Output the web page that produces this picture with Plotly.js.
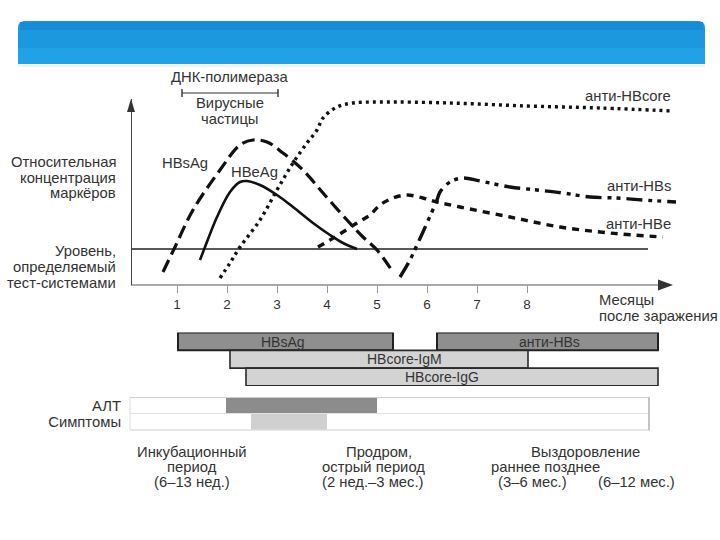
<!DOCTYPE html>
<html>
<head>
<meta charset="utf-8">
<script src="https://cdn.plot.ly/plotly-3.0.1.min.js"></script>
<style>html,body{margin:0;padding:0;background:#fff;}#chart{width:720px;height:540px;}</style>
</head>
<body>
<div id="chart"></div>
<script>
// ---------- DATA (months after infection, relative concentration) ----------
const monthTicks = [1, 2, 3, 4, 5, 6, 7, 8];
const monthLabels = ['1', '2', '3', '4', '5', '6', '7', '8'];

const hbsagX = [0.72, 0.96, 1.32, 1.86, 2.26, 2.52, 2.80, 3.12, 3.52, 3.92, 4.40, 4.72, 5.00, 5.32];
const hbsagY = [1.3, 3.8, 7.5, 11.5, 14.0, 14.5, 14.3, 13.2, 11.5, 9.2, 6.5, 4.8, 3.5, 1.3];

const hbeagX = [1.46, 1.56, 1.80, 2.06, 2.26, 2.40, 2.66, 3.00, 3.32, 3.72, 4.06, 4.32, 4.60];
const hbeagY = [2.5, 3.8, 6.8, 9.3, 10.3, 10.4, 10.0, 9.0, 7.8, 6.2, 5.0, 4.2, 3.6];

const antiCoreX = [1.86, 2.06, 2.26, 2.66, 3.00, 3.32, 3.60, 3.80, 3.92, 4.20, 4.52, 5.06, 6.46, 8.00, 9.46, 10.92];
const antiCoreY = [0.7, 2.2, 3.8, 6.5, 9.5, 12.2, 14.2, 15.5, 16.7, 17.8, 18.2, 18.3, 18.2, 17.9, 17.7, 17.4];

const antiHBeX = [3.82, 4.06, 4.32, 4.60, 4.86, 5.06, 5.32, 5.60, 5.92, 6.20, 6.66, 7.66, 8.66, 9.66, 10.72];
const antiHBeY = [3.8, 4.5, 5.3, 6.2, 7.0, 8.0, 8.7, 9.0, 8.7, 8.3, 7.8, 6.8, 5.8, 5.2, 4.8];

const antiHBsX = [5.46, 5.66, 5.80, 6.00, 6.20, 6.26, 6.46, 6.72, 7.06, 7.66, 8.20, 8.72, 9.26, 9.80, 10.32, 10.98];
const antiHBsY = [0.8, 2.5, 4.0, 6.2, 8.5, 9.3, 10.3, 10.7, 10.4, 9.8, 9.5, 9.2, 8.8, 8.7, 8.5, 8.3];

const detectionLevel = 3.6;
const detectionSpan = [0.08, 10.42];

// marker bars (rows: 2 = top, 1 = middle, 0 = bottom)
const darkBarNames = ['HBsAg', 'анти-HBs'];
const darkBarRow = [2, 2];
const darkBarStart = [1.02, 6.20];
const darkBarEnd = [5.32, 10.62];

const lightBarNames = ['HBcore-IgM', 'HBcore-IgG'];
const lightBarRow = [1, 0];
const lightBarStart = [2.06, 2.38];
const lightBarEnd = [8.02, 10.62];

// clinical rows
const clinRows = ['Симптомы', 'АЛТ'];
const altStart = 1.98, altEnd = 5.00;
const sympStart = 2.48, sympEnd = 4.00;

// ---------- helpers ----------
const W = 720, H = 540;
const px = x => x / W;
const py = y => 1 - y / H;
const P = (x, y) => px(x).toFixed(5) + ',' + py(y).toFixed(5);
const txt = '#333333';
const FONT = 'Liberation Sans, Arial, sans-serif';
const FS = 14.8;

function A(text, x, y, anchor, size, color) {
  return {text: text, x: px(x), y: py(y), xref: 'paper', yref: 'paper',
    xanchor: anchor || 'center', yanchor: 'middle', showarrow: false,
    font: {family: FONT, size: size || FS, color: color || txt}};
}

const lineBase = {type: 'scatter', mode: 'lines', xaxis: 'x', yaxis: 'y', hoverinfo: 'skip'};
const traces = [
  Object.assign({}, lineBase, {x: detectionSpan, y: [detectionLevel, detectionLevel], line: {color: '#222', width: 1.5}}),
  Object.assign({}, lineBase, {x: hbsagX, y: hbsagY, line: {color: '#111', width: 3.2, dash: '13px,6px', shape: 'spline', smoothing: 1}}),
  Object.assign({}, lineBase, {x: hbeagX, y: hbeagY, line: {color: '#111', width: 2.6, shape: 'spline', smoothing: 1}}),
  Object.assign({}, lineBase, {x: antiCoreX, y: antiCoreY, line: {color: '#111', width: 3.4, dash: '3px,4px', shape: 'spline', smoothing: 1}}),
  Object.assign({}, lineBase, {x: antiHBeX, y: antiHBeY, line: {color: '#111', width: 3.4, dash: '7px,6px', shape: 'spline', smoothing: 1}}),
  Object.assign({}, lineBase, {x: antiHBsX, y: antiHBsY, line: {color: '#111', width: 3.4, dash: '16px,6px,4px,5px,4px,6px', shape: 'spline', smoothing: 1}}),
  {type: 'bar', orientation: 'h', xaxis: 'x', yaxis: 'y2', y: darkBarRow, base: darkBarStart,
    x: darkBarEnd.map((e, i) => e - darkBarStart[i]), width: 1, hoverinfo: 'skip',
    marker: {color: '#8f8f8f', line: {color: '#222', width: 2}}},
  {type: 'bar', orientation: 'h', xaxis: 'x', yaxis: 'y2', y: lightBarRow, base: lightBarStart,
    x: lightBarEnd.map((e, i) => e - lightBarStart[i]), width: 1, hoverinfo: 'skip',
    marker: {color: '#d3d3d3', line: {color: '#2a2a2a', width: 1.6}}},
  {type: 'bar', orientation: 'h', xaxis: 'x', yaxis: 'y3', y: [1, 0], base: [altStart, sympStart],
    x: [altEnd - altStart, sympEnd - sympStart], width: 1, hoverinfo: 'skip',
    marker: {color: ['#8c8c8c', '#d0d0d0'], line: {width: 0}}}
];

// ---------- decorations ----------
const r = 7;
const shapes = [
  {type: 'path', xref: 'paper', yref: 'paper', line: {width: 0}, fillcolor: '#1c98df',
    path: 'M ' + P(18 + r, 21) + ' L ' + P(705 - r, 21) + ' Q ' + P(705, 21) + ' ' + P(705, 21 + r) +
      ' L ' + P(705, 64) + ' L ' + P(18, 64) + ' L ' + P(18, 21 + r) + ' Q ' + P(18, 21) + ' ' + P(18 + r, 21) + ' Z'},
  {type: 'rect', xref: 'paper', yref: 'paper', x0: px(20), x1: px(703), y0: py(22), y1: py(30), line: {width: 0}, fillcolor: '#168bd6'},
  {type: 'rect', xref: 'paper', yref: 'paper', x0: px(18), x1: px(705), y0: py(48), y1: py(64), line: {width: 0}, fillcolor: '#21a2e6'},
  {type: 'rect', xref: 'paper', yref: 'paper', x0: px(18), x1: px(705), y0: py(64), y1: py(67), line: {width: 0}, fillcolor: '#f6f1e6'},
  // horizontal axis + arrow
  {type: 'line', xref: 'paper', yref: 'paper', x0: px(131), x1: px(664), y0: py(285), y1: py(285), line: {color: '#555', width: 1.2}},
  {type: 'path', xref: 'paper', yref: 'paper', line: {width: 0}, fillcolor: '#333',
    path: 'M ' + P(658, 279.5) + ' L ' + P(673, 285) + ' L ' + P(658, 290.5) + ' Z'},
  // vertical arrow
  {type: 'path', xref: 'paper', yref: 'paper', line: {width: 0}, fillcolor: '#333',
    path: 'M ' + P(127, 112) + ' L ' + P(131, 99) + ' L ' + P(135, 112) + ' Z'},
  // DNA polymerase bracket
  {type: 'line', xref: 'paper', yref: 'paper', x0: px(182), x1: px(278), y0: py(93), y1: py(93), line: {color: '#333', width: 1.2}},
  {type: 'line', xref: 'paper', yref: 'paper', x0: px(182), x1: px(182), y0: py(89), y1: py(97), line: {color: '#333', width: 1.4}},
  {type: 'line', xref: 'paper', yref: 'paper', x0: px(278), x1: px(278), y0: py(89), y1: py(97), line: {color: '#333', width: 1.4}},
  // ALT frame
  {type: 'line', xref: 'paper', yref: 'paper', x0: px(130), x1: px(650), y0: py(397.5), y1: py(397.5), line: {color: '#cfcfcf', width: 1}},
  {type: 'line', xref: 'paper', yref: 'paper', x0: px(130), x1: px(650), y0: py(413.5), y1: py(413.5), line: {color: '#e2e2e2', width: 1}},
  {type: 'line', xref: 'paper', yref: 'paper', x0: px(130), x1: px(650), y0: py(430), y1: py(430), line: {color: '#cfcfcf', width: 1}},
  {type: 'line', xref: 'paper', yref: 'paper', x0: px(130), x1: px(130), y0: py(397.5), y1: py(430), line: {color: '#dddddd', width: 1}},
  {type: 'line', xref: 'paper', yref: 'paper', x0: px(649), x1: px(649), y0: py(397.5), y1: py(430), line: {color: '#b0b0b0', width: 1.5}}
];

const annotations = [
  A('ДНК-полимераза', 230, 77),
  A('Вирусные', 230, 103),
  A('частицы', 230, 119),
  A('HBsAg', 185, 163),
  A('HBeAg', 254, 172),
  A('анти-HBcore', 673, 96, 'right'),
  A('анти-HBs', 673, 186, 'right'),
  A('анти-HBe', 673, 224, 'right'),
  A('Относительная', 118, 162, 'right'),
  A('концентрация', 118, 178, 'right'),
  A('маркёров', 118, 193, 'right'),
  A('Уровень,', 118, 251, 'right'),
  A('определяемый', 118, 267, 'right'),
  A('тест-системами', 118, 283, 'right'),
  A('Месяцы', 597, 300, 'left'),
  A('после заражения', 597, 316, 'left'),
  A(darkBarNames[0], 283, 341.5, 'center', 14),
  A(darkBarNames[1], 549, 341.5, 'center', 14),
  A(lightBarNames[0], 404, 359, 'center', 14),
  A(lightBarNames[1], 442, 377, 'center', 14),
  A('Инкубационный', 192, 452),
  A('период', 192, 467),
  A('(6–13 нед.)', 192, 482),
  A('Продром,', 379, 452),
  A('острый период', 373, 467),
  A('(2 нед.–3 мес.)', 373, 482),
  A('Выздоровление', 585, 452),
  A('раннее позднее', 545, 467),
  A('(3–6 мес.)', 532, 482),
  A('(6–12 мес.)', 636, 482)
];

const layout = {
  width: W, height: H, margin: {l: 0, r: 0, t: 0, b: 0},
  paper_bgcolor: '#ffffff', plot_bgcolor: 'rgba(0,0,0,0)',
  showlegend: false, barmode: 'overlay', bargap: 0,
  font: {family: FONT, color: txt},
  xaxis: {domain: [0, 1], range: [-2.54, 11.86], anchor: 'y', showline: false, showgrid: false, zeroline: false,
    tickvals: monthTicks, ticktext: monthLabels, ticks: 'outside', ticklen: 7, tickwidth: 1, tickcolor: '#9a9a9a',
    tickfont: {family: FONT, size: 13.5, color: '#333'}, fixedrange: true},
  yaxis: {domain: [py(285), py(99)], range: [0, 18.6], anchor: 'free', position: px(131),
    showline: true, linecolor: '#444', linewidth: 1.2, showgrid: false, zeroline: false,
    showticklabels: false, ticks: '', fixedrange: true},
  yaxis2: {domain: [py(385.9), py(332.6)], range: [-0.5, 2.5], anchor: 'x', visible: false, fixedrange: true},
  yaxis3: {domain: [py(429.5), py(398)], range: [-0.5, 1.5], anchor: 'free', position: px(131),
    showline: false, showgrid: false, zeroline: false, tickvals: [0, 1], ticktext: clinRows,
    ticks: 'outside', ticklen: 7, tickcolor: 'rgba(0,0,0,0)', tickfont: {family: FONT, size: FS, color: '#333'}, fixedrange: true},
  shapes: shapes,
  annotations: annotations
};

Plotly.newPlot('chart', traces, layout, {staticPlot: true, displayModeBar: false});
</script>
</body>
</html>
